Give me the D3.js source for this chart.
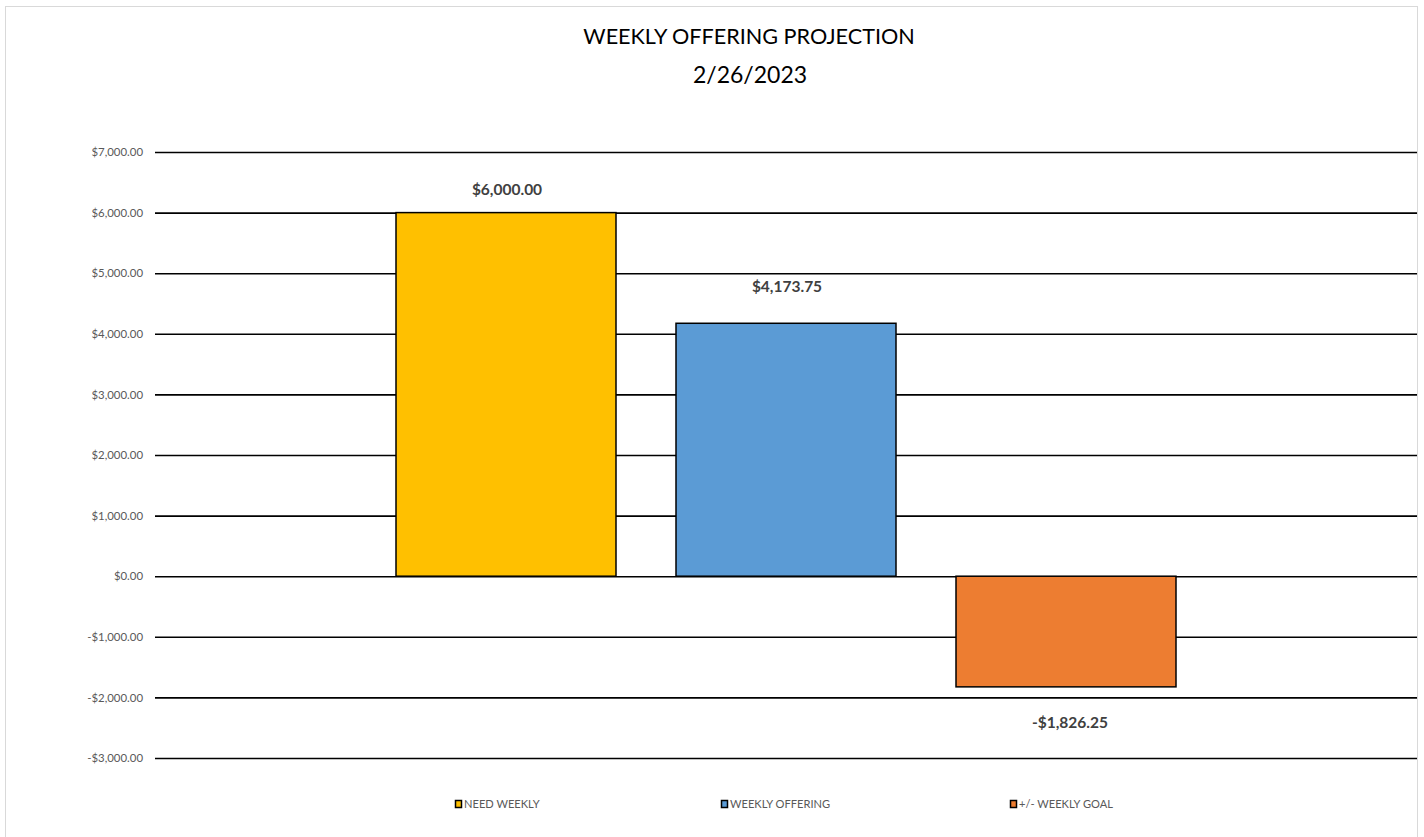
<!DOCTYPE html>
<html>
<head>
<meta charset="utf-8">
<script src="https://cdn.jsdelivr.net/npm/d3@7"></script>
<style>
  html, body { margin: 0; padding: 0; background: #fff; }
  svg { display: block; }
  text { font-family: Lato, "Open Sans", "Liberation Sans", Arial, sans-serif; }
</style>
</head>
<body>
<div id="chart"></div>
<script>
// ---- data ----
const titleLines = ["WEEKLY OFFERING PROJECTION", "2/26/2023"];
const seriesNames = ["NEED WEEKLY", "WEEKLY OFFERING", "+/- WEEKLY GOAL"];
const seriesValues = [6000.00, 4173.75, -1826.25];
const seriesColors = ["#FFC000", "#5B9BD5", "#ED7D31"];
const yTicks = [7000, 6000, 5000, 4000, 3000, 2000, 1000, 0, -1000, -2000, -3000];

// ---- layout ----
const W = 1424, H = 837;
const plot = { left: 155, right: 1417, top: 152, bottom: 758 };
const labelGap = [18, 31, 41]; // distance from bar end to label baseline

const svg = d3.select("#chart").append("svg").attr("width", W).attr("height", H);

// chart border
svg.append("rect").attr("x", 5.5).attr("y", 6.5).attr("width", 1412).attr("height", 840)
  .attr("fill", "#fff").attr("stroke", "#D9D9D9").attr("stroke-width", 1);

// title
svg.append("text").attr("x", 749).attr("y", 44).attr("text-anchor", "middle")
  .attr("font-size", 21.6).attr("fill", "#000").text(titleLines[0]);
svg.append("text").attr("x", 750).attr("y", 83).attr("text-anchor", "middle")
  .attr("font-size", 23).attr("fill", "#000").text(titleLines[1]);

const y = d3.scaleLinear().domain([-3000, 7000]).range([plot.bottom, plot.top]);
const x = d3.scaleBand().domain(seriesNames).range([366, 1206])
  .paddingInner(60 / 280).paddingOuter(30 / 280);

const fmt = v => (v < 0 ? "-$" : "$") + d3.format(",.2f")(Math.abs(v));

// y axis (labels + gridlines)
const yAxis = d3.axisLeft(y).tickValues(yTicks).tickFormat(fmt)
  .tickSize(-(plot.right - plot.left)).tickPadding(12);
const ga = svg.append("g").attr("transform", `translate(${plot.left},0)`).call(yAxis);
ga.select(".domain").remove();
ga.selectAll(".tick line").attr("stroke", "#000").attr("stroke-width", 1.6);
ga.selectAll(".tick text").attr("fill", "#595959").attr("font-size", 11.4)
  .style("font-family", 'Lato, "Open Sans", "Liberation Sans", Arial, sans-serif');

// bars
svg.append("g").selectAll("rect").data(seriesValues).join("rect")
  .attr("x", (d, i) => x(seriesNames[i]))
  .attr("width", x.bandwidth())
  .attr("y", d => y(Math.max(0, d)))
  .attr("height", d => Math.abs(y(d) - y(0)))
  .attr("fill", (d, i) => seriesColors[i])
  .attr("stroke", "#000").attr("stroke-width", 1.5);

// data labels
svg.append("g").selectAll("text").data(seriesValues).join("text")
  .attr("x", (d, i) => x(seriesNames[i]) + x.bandwidth() / 2 + (d < 0 ? 4 : 1))
  .attr("y", (d, i) => d >= 0 ? y(d) - labelGap[i] : y(d) + labelGap[i])
  .attr("text-anchor", "middle")
  .attr("font-size", 15.5).attr("font-weight", "bold").attr("fill", "#404040")
  .text(d => fmt(d));

// legend
const legendX = [455, 721, 1010];
const lg = svg.append("g").selectAll("g").data(seriesNames).join("g")
  .attr("transform", (d, i) => `translate(${legendX[i]},804)`);
lg.append("rect").attr("x", 0.5).attr("y", -3.5).attr("width", 6).attr("height", 7)
  .attr("fill", (d, i) => seriesColors[i]).attr("stroke", "#000").attr("stroke-width", 1.5);
lg.append("text").attr("x", 9).attr("y", 4.2).attr("font-size", 11.1).attr("fill", "#595959")
  .text(d => d);
</script>
</body>
</html>
